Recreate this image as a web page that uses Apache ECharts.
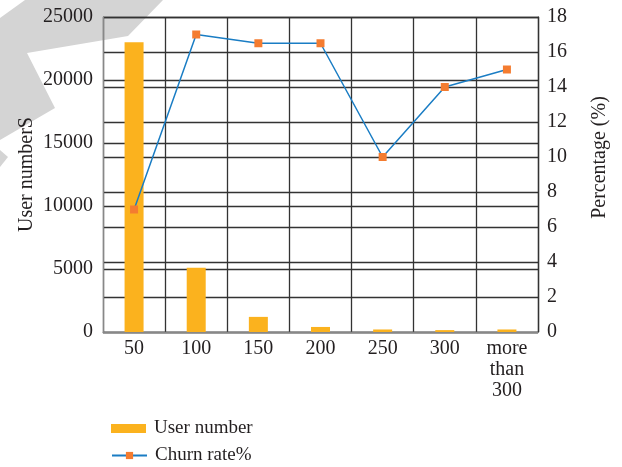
<!DOCTYPE html>
<html>
<head>
<meta charset="utf-8">
<script src="https://cdn.jsdelivr.net/npm/echarts@6/dist/echarts.min.js"></script>
<style>
  html, body { margin: 0; padding: 0; background: #fff; }
  #chart { width: 622px; height: 467px; }
</style>
</head>
<body>
<div id="chart"></div>
<script>
// Usage-bucket categories (minutes)
const categories = ['50', '100', '150', '200', '250', '300', 'more\nthan\n300'];
// Number of users in each bucket
const userNumbers = [23000, 5100, 1200, 400, 200, 150, 200];
// Churn rate per bucket, percent
const churnRates = [7, 17, 16.5, 16.5, 10, 14, 15];

const leftTicks = { min: 0, max: 25000, interval: 5000 };
const rightTicks = { min: 0, max: 18, interval: 2 };

const FONT = '"Liberation Serif", "DejaVu Serif", serif';
const TEXT = '#231f20';
const GRID_LINE = '#333333';
const SIZE = 20;

const legendText = { fontFamily: FONT, fontSize: 19, color: TEXT, padding: [0, 0, 0, 3] };

const chart = echarts.init(document.getElementById('chart'), null, { renderer: 'canvas' });

chart.setOption({
  animation: false,
  backgroundColor: '#ffffff',
  textStyle: { fontFamily: FONT, color: TEXT },
  graphic: [{
    type: 'polygon',
    z: -10,
    silent: true,
    shape: { points: [[25, 0], [163, 0], [128, 36], [27, 53], [55, 108], [0, 140], [0, 18]] },
    style: { fill: '#d4d4d4' }
  }, {
    type: 'polygon',
    z: -10,
    silent: true,
    shape: { points: [[0, 150], [8, 157], [0, 167]] },
    style: { fill: '#d4d4d4' }
  }],
  grid: { left: 103, right: 84, top: 17, bottom: 135 },
  legend: [{
    left: 106,
    top: 414,
    itemWidth: 35,
    itemHeight: 9,
    textStyle: legendText,
    data: [{ name: 'User number', icon: 'rect' }]
  }, {
    left: 106,
    top: 441,
    itemWidth: 35,
    itemHeight: 9,
    textStyle: legendText,
    data: [{ name: 'Churn rate%' }]
  }],
  xAxis: {
    type: 'category',
    data: categories,
    boundaryGap: true,
    axisLine: { show: true, lineStyle: { color: '#888888', width: 1.3 } },
    axisTick: { show: false },
    splitLine: { show: true, lineStyle: { color: GRID_LINE, width: 1.3 } },
    axisLabel: { fontFamily: FONT, fontSize: SIZE, color: TEXT, margin: 6, lineHeight: 21, interval: 0 }
  },
  yAxis: [{
    type: 'value',
    min: leftTicks.min,
    max: leftTicks.max,
    interval: leftTicks.interval,
    name: 'User numberS',
    nameLocation: 'middle',
    nameRotate: 90,
    nameGap: 66,
    nameMoveOverlap: false,
    nameTextStyle: { fontFamily: FONT, fontSize: SIZE, color: TEXT },
    axisLine: { show: true, lineStyle: { color: '#888888', width: 1.3 } },
    axisTick: { show: false },
    splitLine: { show: true, lineStyle: { color: GRID_LINE, width: 1.3 } },
    axisLabel: { fontFamily: FONT, fontSize: SIZE, color: TEXT, margin: 10, formatter: v => String(v) }
  }, {
    type: 'value',
    min: rightTicks.min,
    max: rightTicks.max,
    interval: rightTicks.interval,
    position: 'right',
    name: 'Percentage (%)',
    nameLocation: 'middle',
    nameRotate: 90,
    nameGap: 52,
    nameMoveOverlap: false,
    nameTextStyle: { fontFamily: FONT, fontSize: SIZE, color: TEXT, padding: [0, 0, 0, 34] },
    axisLine: { show: true, lineStyle: { color: GRID_LINE, width: 1.3 } },
    axisTick: { show: false },
    splitLine: { show: true, lineStyle: { color: GRID_LINE, width: 1.3 } },
    axisLabel: { fontFamily: FONT, fontSize: SIZE, color: TEXT, margin: 9, formatter: v => String(v) }
  }],
  series: [{
    name: 'User number',
    type: 'bar',
    yAxisIndex: 0,
    barWidth: 19,
    itemStyle: { color: '#fbb21e' },
    data: userNumbers
  }, {
    name: 'Churn rate%',
    type: 'line',
    yAxisIndex: 1,
    symbol: 'rect',
    symbolSize: 8,
    lineStyle: { color: '#1a7dc4', width: 1.5 },
    itemStyle: { color: '#f47c30' },
    data: churnRates
  }]
});
</script>
</body>
</html>
